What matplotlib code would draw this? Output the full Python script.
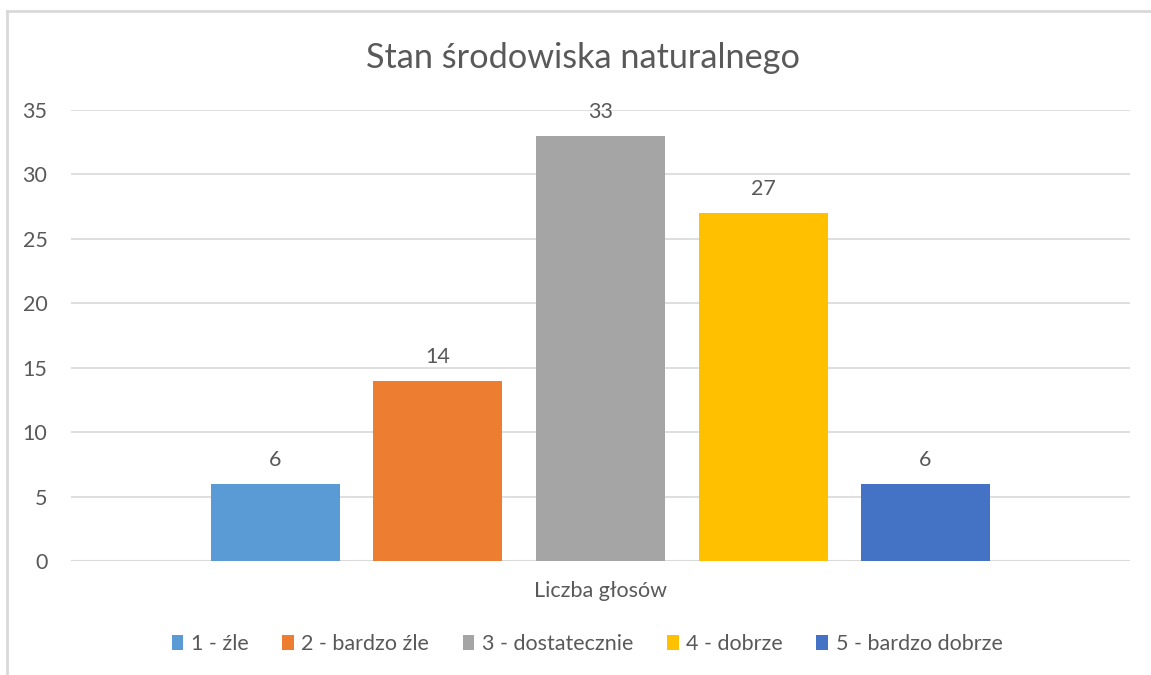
import matplotlib.pyplot as plt
from matplotlib.patches import Patch
from matplotlib.lines import Line2D

# ─── Data ────────────────────────────────────────
title = "Stan środowiska naturalnego"
category = "Liczba głosów"
labels = ["1 - źle", "2 - bardzo źle", "3 - dostatecznie", "4 - dobrze", "5 - bardzo dobrze"]
votes = [6, 14, 33, 27, 6]
colors = ["#5B9BD5", "#ED7D31", "#A5A5A5", "#FFC000", "#4472C4"]

TEXT = "#595959"
GRID = "#D9D9D9"

plt.rcParams['font.family'] = ['Lato', 'DejaVu Sans']

fig = plt.figure(figsize=(11.51, 6.75), dpi=100)
ax = fig.add_axes([71 / 1151, 1 - 561 / 675, (1130 - 71) / 1151, (561 - 110) / 675])

pos = list(range(len(votes)))
bars = ax.bar(pos, votes, width=0.794, color=colors, zorder=3)

for x, v in zip(pos, votes):
    ax.annotate(str(v), (x, v), xytext=(0, 10), textcoords='offset points',
                ha='center', va='bottom', fontsize=15.5, color=TEXT)

ax.set_xlim(-1.258, 5.258)
ax.set_ylim(0, 35)
ax.set_yticks(range(0, 36, 5))
ax.yaxis.grid(True, color=GRID, lw=1.2, zorder=0)
ax.set_xticks([])
for s in ax.spines.values():
    s.set_visible(False)
ax.axhline(0, color=GRID, lw=1.5, zorder=2)
ax.tick_params(axis='y', length=0, labelsize=15.5, labelcolor=TEXT, pad=17)

fig.text(600 / 1151, 1 - 591 / 675, category, ha='center', va='center',
         fontsize=15.5, color=TEXT)
fig.text(583 / 1151, 1 - 58 / 675, title, ha='center', va='center',
         fontsize=24.7, color=TEXT)

handles = [Patch(facecolor=c, label=l) for c, l in zip(colors, labels)]
fig.legend(handles=handles, loc='center', bbox_to_anchor=(587 / 1151, 1 - 644 / 675),
           ncol=5, frameon=False, fontsize=15.5, labelcolor=TEXT,
           handlelength=0.55, handleheight=0.75, handletextpad=0.35, columnspacing=1.55)

# chart border (left and top only visible)
fig.add_artist(Line2D([7 / 1151, 7 / 1151], [0, 1 - 11 / 675], color=GRID, lw=2,
                      transform=fig.transFigure))
fig.add_artist(Line2D([7 / 1151, 1], [1 - 11 / 675, 1 - 11 / 675], color=GRID, lw=2,
                      transform=fig.transFigure))

fig.savefig("out.png", dpi=100)
